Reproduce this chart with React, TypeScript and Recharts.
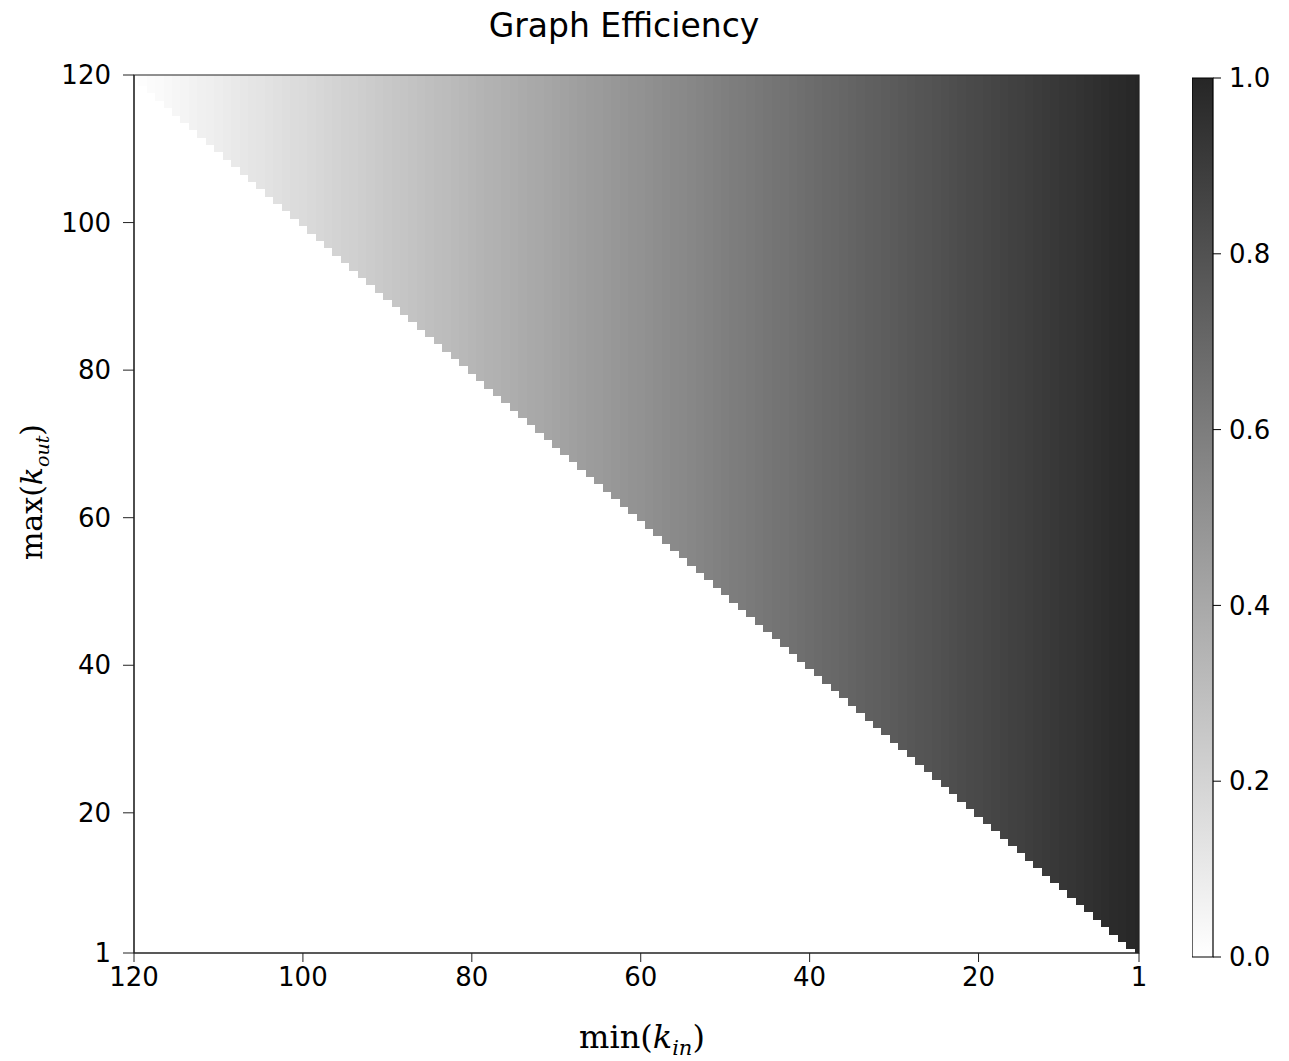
import {
  Bar,
  BarChart,
  ReferenceArea,
  Scatter,
  ScatterChart,
  XAxis,
  YAxis,
} from "recharts";

// graph efficiency per min(k_in) column, k_in = 1 .. 120
const EFFICIENCY = [
  1.0, 0.992, 0.983, 0.975, 0.966, 0.958, 0.95, 0.941, 0.933, 0.924,
  0.916, 0.908, 0.899, 0.891, 0.882, 0.874, 0.866, 0.857, 0.849, 0.84,
  0.832, 0.824, 0.815, 0.807, 0.798, 0.79, 0.782, 0.773, 0.765, 0.756,
  0.748, 0.739, 0.731, 0.723, 0.714, 0.706, 0.697, 0.689, 0.681, 0.672,
  0.664, 0.655, 0.647, 0.639, 0.63, 0.622, 0.613, 0.605, 0.597, 0.588,
  0.58, 0.571, 0.563, 0.555, 0.546, 0.538, 0.529, 0.521, 0.513, 0.504,
  0.496, 0.487, 0.479, 0.471, 0.462, 0.454, 0.445, 0.437, 0.429, 0.42,
  0.412, 0.403, 0.395, 0.387, 0.378, 0.37, 0.361, 0.353, 0.345, 0.336,
  0.328, 0.319, 0.311, 0.303, 0.294, 0.286, 0.277, 0.269, 0.261, 0.252,
  0.244, 0.235, 0.227, 0.218, 0.21, 0.202, 0.193, 0.185, 0.176, 0.168,
  0.16, 0.151, 0.143, 0.134, 0.126, 0.118, 0.109, 0.101, 0.092, 0.084,
  0.076, 0.067, 0.059, 0.05, 0.042, 0.034, 0.025, 0.017, 0.008, 0.0,
];

const K_MIN = 1;
const K_MAX = 120;
const AXIS_TICKS = [1, 20, 40, 60, 80, 100, 120];
const CBAR_TICKS = [0, 0.2, 0.4, 0.6, 0.8, 1.0];

const SANS = "Verdana, 'DejaVu Sans', sans-serif";
const SERIF = "'DejaVu Serif', 'Liberation Serif', serif";

// white -> dark grey colormap
const grey = (v: number) => {
  const g = Math.round(255 - v * 217);
  return `rgb(${g},${g},${g})`;
};

// a cell is filled when max(k_out) >= min(k_in); each column runs from its own row to the top
const columns = EFFICIENCY.map((v, i) => {
  const kin = i + 1;
  return {
    kin,
    value: v,
    x1: Math.max(K_MIN, kin - 0.5),
    x2: Math.min(K_MAX, kin + 0.5),
    y1: Math.max(K_MIN, kin - 0.5),
  };
});

const corners = [
  { kin: K_MIN, kout: K_MIN },
  { kin: K_MAX, kout: K_MAX },
];

const tickStyle = { fill: "#000", fontSize: 26, fontFamily: SANS };

export default function App() {
  return (
    <div style={{ position: "absolute", left: 0, top: 0, width: 1289, height: 1061, background: "#fff" }}>
      <div
        style={{
          position: "absolute",
          left: 0,
          width: 1248,
          top: 6,
          textAlign: "center",
          fontFamily: SANS,
          fontSize: 33,
          color: "#000",
        }}
      >
        Graph Efficiency
      </div>

      <div style={{ position: "absolute", left: 0, top: 0 }}>
        <ScatterChart width={1160} height={1061} margin={{ top: 75, right: 21, bottom: 78, left: 74 }}>
          <XAxis
            type="number"
            dataKey="kin"
            domain={[K_MIN, K_MAX]}
            ticks={AXIS_TICKS}
            reversed
            allowDataOverflow
            height={30}
            tickSize={9}
            tickMargin={6}
            tick={tickStyle}
            stroke="#222"
            interval={0}
          />
          <YAxis
            type="number"
            dataKey="kout"
            domain={[K_MIN, K_MAX]}
            ticks={AXIS_TICKS}
            allowDataOverflow
            width={60}
            tickSize={11}
            tickMargin={12}
            tick={tickStyle}
            stroke="#222"
            interval={0}
          />
          {columns.map((c) => (
            <ReferenceArea
              key={c.kin}
              x1={c.x1}
              x2={c.x2}
              y1={c.y1}
              y2={K_MAX}
              fill={grey(c.value)}
              fillOpacity={1}
              stroke="none"
              shapeRendering="crispEdges"
              ifOverflow="hidden"
            />
          ))}
          <ReferenceArea
            x1={K_MIN}
            x2={K_MAX}
            y1={K_MIN}
            y2={K_MAX}
            fill="none"
            stroke="#222"
            strokeWidth={1.2}
            ifOverflow="visible"
          />
          <Scatter data={corners} fill="transparent" isAnimationActive={false} legendType="none" />
        </ScatterChart>
      </div>

      {/* colour bar */}
      <div style={{ position: "absolute", left: 1192, top: 0 }}>
        <BarChart
          width={97}
          height={1061}
          data={[{ name: "cbar", range: [0, 1] }]}
          margin={{ top: 78, right: 0, bottom: 104, left: 0 }}
          barCategoryGap={0}
        >
          <defs>
            <linearGradient id="cbarGrad" x1="0" y1="0" x2="0" y2="1">
              <stop offset="0%" stopColor={grey(1)} />
              <stop offset="100%" stopColor={grey(0)} />
            </linearGradient>
          </defs>
          <XAxis dataKey="name" hide />
          <YAxis
            orientation="right"
            type="number"
            domain={[0, 1]}
            ticks={CBAR_TICKS}
            tickFormatter={(v: number) => v.toFixed(1)}
            width={76}
            axisLine={false}
            tickSize={8}
            tickMargin={8}
            tick={tickStyle}
            stroke="#000"
            interval={0}
          />
          <Bar dataKey="range" fill="url(#cbarGrad)" stroke="#000" strokeWidth={1.2} isAnimationActive={false} />
        </BarChart>
      </div>

      {/* axis labels */}
      <div
        style={{
          position: "absolute",
          left: 575,
          top: 1018,
          width: 134,
          textAlign: "center",
          fontFamily: SERIF,
          fontSize: 32,
          color: "#000",
          whiteSpace: "nowrap",
        }}
      >
        min(<i>k</i>
        <sub style={{ fontSize: 21 }}>
          <i>in</i>
        </sub>
        )
      </div>
      <div
        style={{
          position: "absolute",
          left: 33,
          top: 492,
          transform: "translate(-50%, -50%) rotate(-90deg)",
          fontFamily: SERIF,
          fontSize: 30,
          color: "#000",
          whiteSpace: "nowrap",
        }}
      >
        max(<i>k</i>
        <sub style={{ fontSize: 19 }}>
          <i>out</i>
        </sub>
        )
      </div>
    </div>
  );
}
